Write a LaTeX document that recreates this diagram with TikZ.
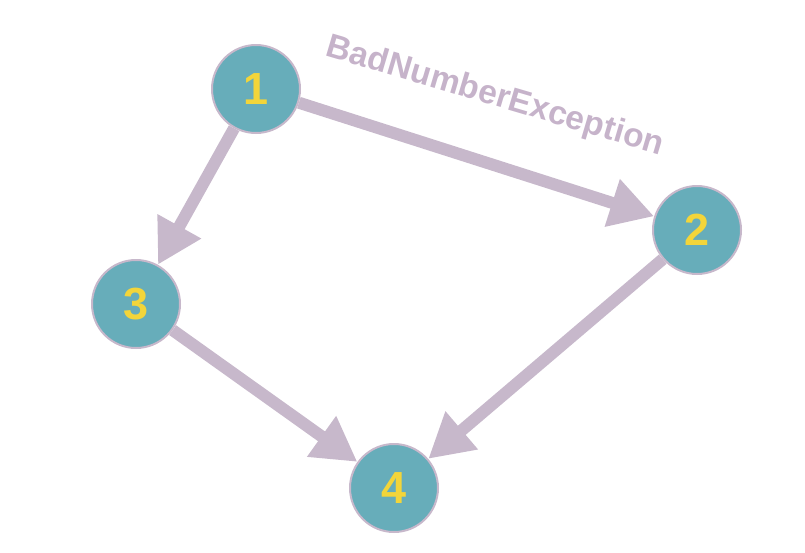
\documentclass[tikz,border=0pt]{standalone}
\usepackage{fontspec}
\setmainfont{Liberation Sans}
\usetikzlibrary{arrows.meta}
\definecolor{nodefill}{HTML}{67ADBA}
\definecolor{edgecol}{HTML}{C7B8CB}
\definecolor{numcol}{HTML}{F3D53A}
\definecolor{labcol}{HTML}{C6B3CA}
\begin{document}
\begin{tikzpicture}[x=1pt,y=-1pt,
  vnode/.style={circle,fill=nodefill,draw=edgecol,line width=2pt,minimum size=88pt,inner sep=0pt,
    text=numcol,font=\fontsize{45}{45}\selectfont\bfseries},
  edge/.style={draw=edgecol,line width=12pt,-{Triangle[length=44pt,width=47pt]}}]
\useasboundingbox (0,0) rectangle (805,552);
\node[vnode] (n1) at (256,89) {1};
\node[vnode] (n2) at (697,230) {2};
\node[vnode] (n3) at (136,304) {3};
\node[vnode] (n4) at (394,488) {4};
\draw[edge] (n1) -- (n2);
\draw[edge] (n1) -- (n3);
\draw[edge] (n3) -- (n4);
\draw[edge] (n2) -- (n4);
\node[text=labcol,font=\fontsize{33.5}{33.5}\selectfont\bfseries,rotate=-16.5] (lab) at (495,97) {BadNumberException};
\end{tikzpicture}
\end{document}
